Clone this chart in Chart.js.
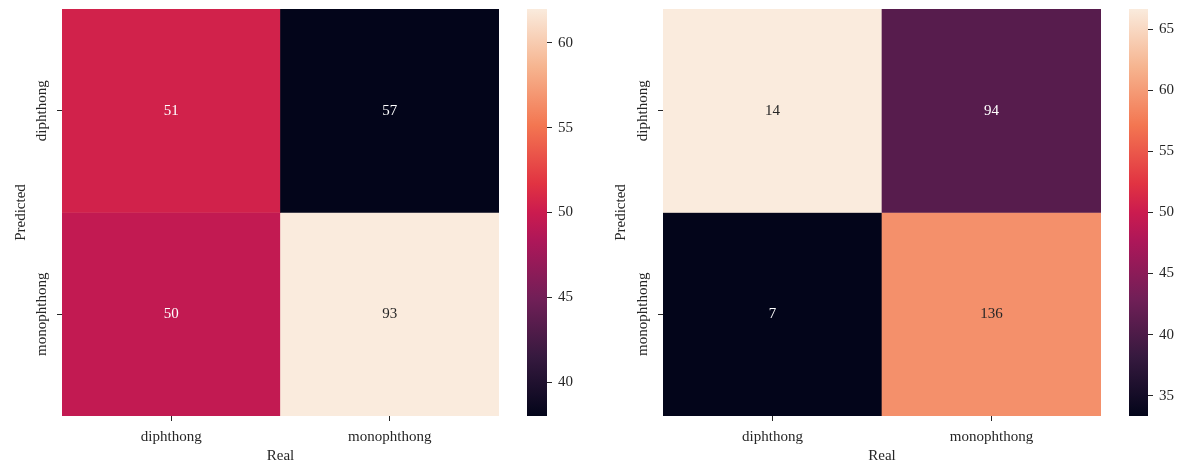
<!DOCTYPE html>
<html>
<head>
<meta charset="utf-8">
<script src="https://cdn.jsdelivr.net/npm/chart.js@4/dist/chart.umd.min.js"></script>
<style>
  html, body { margin: 0; padding: 0; background: #fff; }
  body { width: 1179px; height: 466px; position: relative; overflow: hidden; }
  .box { position: absolute; top: 0; height: 466px; }
</style>
</head>
<body>
<div class="box" style="left:0;width:520px"><canvas id="heatLeft"></canvas></div>
<div class="box" style="left:520px;width:80px"><canvas id="barLeft"></canvas></div>
<div class="box" style="left:600px;width:520px"><canvas id="heatRight"></canvas></div>
<div class="box" style="left:1120px;width:59px"><canvas id="barRight"></canvas></div>
<script>
// columns = Real, rows = Predicted
const realLabels = ['diphthong', 'monophthong'];
const predictedLabels = ['diphthong', 'monophthong'];
const leftCounts = [[51, 57], [50, 93]];
const rightCounts = [[14, 94], [7, 136]];

// seaborn "rocket" colormap, sampled
const rocketStops = [
  [0, '#03051a'], [0.143, '#35193e'], [0.286, '#701f57'], [0.429, '#ad1759'],
  [0.5, '#cb1b4f'], [0.571, '#e13342'], [0.714, '#f37651'], [0.857, '#f6b48f'],
  [1, '#faebdd']
];

Chart.defaults.font.family = '"Liberation Serif", "Times New Roman", serif';
Chart.defaults.font.size = 15;
Chart.defaults.color = '#262626';

function hexRgb(h) {
  return [1, 3, 5].map(i => parseInt(h.substr(i, 2), 16));
}

function rocket(t) {
  t = Math.max(0, Math.min(1, t));
  for (let i = 1; i < rocketStops.length; i++) {
    const [t1, c1] = rocketStops[i];
    if (t <= t1) {
      const [t0, c0] = rocketStops[i - 1];
      const f = (t - t0) / (t1 - t0);
      const a = hexRgb(c0), b = hexRgb(c1);
      return a.map((v, k) => Math.round(v + (b[k] - v) * f));
    }
  }
  return hexRgb(rocketStops[rocketStops.length - 1][1]);
}

function luminance(rgb) {
  const lin = rgb.map(v => {
    v /= 255;
    return v <= 0.03928 ? v / 12.92 : Math.pow((v + 0.055) / 1.055, 2.4);
  });
  return 0.2126 * lin[0] + 0.7152 * lin[1] + 0.0722 * lin[2];
}

// colour = share of the column (percent), text = raw count
function columnShares(counts) {
  const sums = realLabels.map((_, c) => counts.reduce((s, row) => s + row[c], 0));
  return counts.map(row => row.map((v, c) => v / sums[c] * 100));
}

function noPad(s) {
  s.paddingTop = 0;
  s.paddingBottom = 0;
}

const heatLabels = {
  id: 'heatLabels',
  afterDatasetsDraw(chart) {
    const ctx = chart.ctx;
    ctx.save();
    ctx.font = '15px "Liberation Serif", "Times New Roman", serif';
    ctx.textAlign = 'center';
    ctx.textBaseline = 'middle';
    chart.data.datasets.forEach((ds, r) => {
      chart.getDatasetMeta(r).data.forEach((bar, c) => {
        ctx.fillStyle = luminance(ds.rgb[c]) > 0.3 ? '#262626' : '#ffffff';
        ctx.fillText(String(ds.counts[c]), bar.x, (bar.y + bar.base) / 2);
      });
    });
    // rotated y tick labels
    const y = chart.scales.y;
    ctx.fillStyle = '#262626';
    predictedLabels.forEach((p, i) => {
      ctx.save();
      ctx.translate(chart.chartArea.left - 20, y.getPixelForValue(i + 0.5));
      ctx.rotate(-Math.PI / 2);
      ctx.fillText(p, 0, 0);
      ctx.restore();
    });
    ctx.restore();
  }
};

function heatmap(id, counts, axisWidth, padRight) {
  const shares = columnShares(counts);
  const flat = shares.flat();
  const vmin = Math.min(...flat), vmax = Math.max(...flat);
  new Chart(document.getElementById(id), {
    type: 'bar',
    data: {
      labels: realLabels,
      datasets: predictedLabels.map((p, r) => {
        const rgb = shares[r].map(v => rocket((v - vmin) / (vmax - vmin)));
        return {
          label: p,
          data: realLabels.map(() => [r, r + 1]),
          counts: counts[r],
          rgb: rgb,
          backgroundColor: rgb.map(c => 'rgb(' + c.join(',') + ')'),
          borderWidth: 0,
          grouped: false,
          barPercentage: 1,
          categoryPercentage: 1
        };
      })
    },
    options: {
      responsive: true,
      maintainAspectRatio: false,
      animation: false,
      layout: { padding: { top: 9, right: padRight, left: 0, bottom: 0 } },
      plugins: { legend: { display: false }, tooltip: { enabled: false } },
      scales: {
        x: {
          grid: { offset: false, drawOnChartArea: false, tickLength: 5, color: '#262626' },
          border: { display: false },
          ticks: { padding: 7, maxRotation: 0 },
          title: { display: true, text: 'Real', padding: { top: 0, bottom: 1 } },
          afterFit: s => { s.height = 50; s.paddingLeft = 0; s.paddingRight = 0; }
        },
        y: {
          type: 'linear',
          reverse: true,
          min: 0,
          max: predictedLabels.length,
          afterBuildTicks: s => { s.ticks = predictedLabels.map((_, i) => ({ value: i + 0.5 })); },
          ticks: { callback: () => '' },
          grid: { drawOnChartArea: false, tickLength: 5, color: '#262626' },
          border: { display: false },
          title: { display: true, text: 'Predicted', padding: { top: 12, bottom: 0 } },
          afterFit: s => { s.width = axisWidth; noPad(s); }
        }
      }
    },
    plugins: [heatLabels]
  });
  return [vmin, vmax];
}

function colorbar(id, range, padLeft, axisWidth) {
  const [vmin, vmax] = range;
  new Chart(document.getElementById(id), {
    type: 'bar',
    data: {
      labels: [''],
      datasets: [{
        data: [[vmin, vmax]],
        borderWidth: 0,
        barPercentage: 1,
        categoryPercentage: 1,
        backgroundColor: (c) => {
          const chart = c.chart;
          if (!chart.chartArea) return 'transparent';
          const y = chart.scales.y;
          const g = chart.ctx.createLinearGradient(0, y.getPixelForValue(vmin), 0, y.getPixelForValue(vmax));
          rocketStops.forEach(([t, col]) => g.addColorStop(t, col));
          return g;
        }
      }]
    },
    options: {
      responsive: true,
      maintainAspectRatio: false,
      animation: false,
      layout: { padding: { top: 9, right: 0, left: padLeft, bottom: 50 } },
      plugins: { legend: { display: false }, tooltip: { enabled: false } },
      scales: {
        x: { display: false },
        y: {
          position: 'right',
          min: vmin,
          max: vmax,
          ticks: { stepSize: 5, includeBounds: false, padding: 6 },
          grid: { drawOnChartArea: false, tickLength: 5, color: '#262626' },
          border: { display: false },
          afterFit: s => { s.width = axisWidth; noPad(s); }
        }
      }
    }
  });
}

const leftRange = heatmap('heatLeft', leftCounts, 62, 21);
colorbar('barLeft', leftRange, 7, 53);
const rightRange = heatmap('heatRight', rightCounts, 63, 19);
colorbar('barRight', rightRange, 9, 31);
</script>
</body>
</html>
